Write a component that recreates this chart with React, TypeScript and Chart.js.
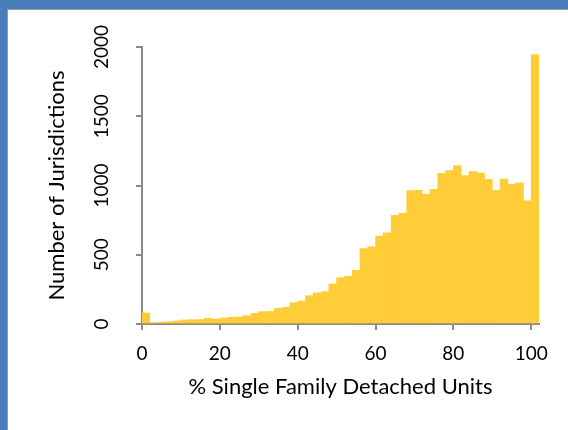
import React, { useEffect, useRef } from "react";
import { Chart, registerables } from "chart.js";

Chart.register(...registerables);

// Bin start (% single family detached units), 2-point bins
const binStarts = [
  0, 2, 4, 6, 8, 10, 12, 14, 16, 18, 20, 22, 24, 26, 28, 30, 32, 34, 36, 38,
  40, 42, 44, 46, 48, 50, 52, 54, 56, 58, 60, 62, 64, 66, 68, 70, 72, 74, 76, 78,
  80, 82, 84, 86, 88, 90, 92, 94, 96, 98, 100,
];
// Number of jurisdictions in each bin
const counts = [
  80, 10, 14, 17, 22, 29, 31, 32, 41, 36, 43, 48, 51, 60, 77, 89, 91, 113, 120, 154,
  166, 205, 224, 233, 289, 335, 345, 387, 544, 558, 635, 659, 785, 799, 963, 965, 936, 972, 1088, 1107,
  1143, 1071, 1100, 1090, 1045, 965, 1047, 1008, 1020, 890, 1945,
];
const binWidth = 2;
const xTicks = [0, 20, 40, 60, 80, 100];
const yTicks = [0, 500, 1000, 1500, 2000];

const FONT = "Lato";
const AXIS_GRAY = "#8a8a8a";
const TICK_SIZE = 19;
const TITLE_SIZE = 22;

const yLabelPlugin = {
  id: "yRotLabels",
  afterDraw(chart: any) {
    const s = chart.scales.y;
    const ctx = chart.ctx;
    ctx.save();
    ctx.font = `${TICK_SIZE}px ${FONT}`;
    ctx.fillStyle = "#000";
    ctx.textAlign = "center";
    ctx.textBaseline = "middle";
    s.ticks.forEach((t: any) => {
      const y = s.getPixelForValue(t.value);
      ctx.save();
      ctx.translate(s.right - 40, y);
      ctx.rotate(-Math.PI / 2);
      ctx.fillText(String(t.value), 0, 0);
      ctx.restore();
    });
    ctx.restore();
  },
};

export default function App() {
  const ref = useRef<HTMLCanvasElement | null>(null);
  useEffect(() => {
    if (!ref.current) return;
    const chart = new Chart(ref.current, {
      type: "bar",
      data: {
        datasets: [
          {
            data: binStarts.map((b, i) => ({ x: b + binWidth / 2, y: counts[i] })),
            backgroundColor: "#FFCD38",
            borderWidth: 0,
            barPercentage: 1,
            categoryPercentage: 1,
          },
        ],
      },
      options: {
        animation: false,
        responsive: false,
        maintainAspectRatio: false,
        layout: { padding: { left: 44, right: 29, top: 47, bottom: 30 } },
        plugins: { legend: { display: false }, tooltip: { enabled: false } },
        scales: {
          x: {
            type: "linear",
            offset: false,
            min: 0,
            max: 102,
            afterBuildTicks: (s: any) => {
              s.ticks = xTicks.map((v) => ({ value: v }));
            },
            afterFit: (s: any) => {
              s.height = 76;
            },
            ticks: {
              font: { family: FONT, size: TICK_SIZE },
              color: "#000",
              padding: 12,
              maxRotation: 0,
            },
            grid: {
              offset: false,
              drawOnChartArea: false,
              drawTicks: true,
              tickLength: 6,
              color: AXIS_GRAY,
              lineWidth: 2,
            },
            border: { color: AXIS_GRAY, width: 2 },
            title: {
              display: true,
              text: "% Single Family Detached Units",
              font: { family: FONT, size: TITLE_SIZE },
              color: "#000",
              padding: { top: 0, bottom: 0 },
            },
          },
          y: {
            type: "linear",
            min: 0,
            max: 2000,
            afterBuildTicks: (s: any) => {
              s.ticks = yTicks.map((v) => ({ value: v }));
            },
            afterFit: (s: any) => {
              s.width = 98;
            },
            ticks: { display: false },
            grid: {
              drawOnChartArea: false,
              drawTicks: true,
              tickLength: 6,
              color: AXIS_GRAY,
              lineWidth: 2,
            },
            border: { color: AXIS_GRAY, width: 2 },
            title: {
              display: true,
              text: "Number of Jurisdictions",
              font: { family: FONT, size: TITLE_SIZE },
              color: "#000",
              padding: { top: 0, bottom: 0 },
            },
          },
        },
      },
      plugins: [yLabelPlugin],
    });
    return () => chart.destroy();
  }, []);

  return (
    <div
      style={{
        position: "fixed",
        left: 0,
        top: 0,
        width: 568,
        height: 430,
        background: "#4A7EBB",
        overflow: "hidden",
      }}
    >
      <div
        style={{
          position: "absolute",
          left: 7,
          top: 9,
          right: 0,
          bottom: 0,
          background: "#fff",
          borderLeft: "1px solid #9a9a9a",
          borderTop: "1px solid #9a9a9a",
        }}
      />
      <canvas
        ref={ref}
        width={568}
        height={430}
        style={{ position: "absolute", left: 0, top: 0, width: 568, height: 430 }}
      />
    </div>
  );
}
